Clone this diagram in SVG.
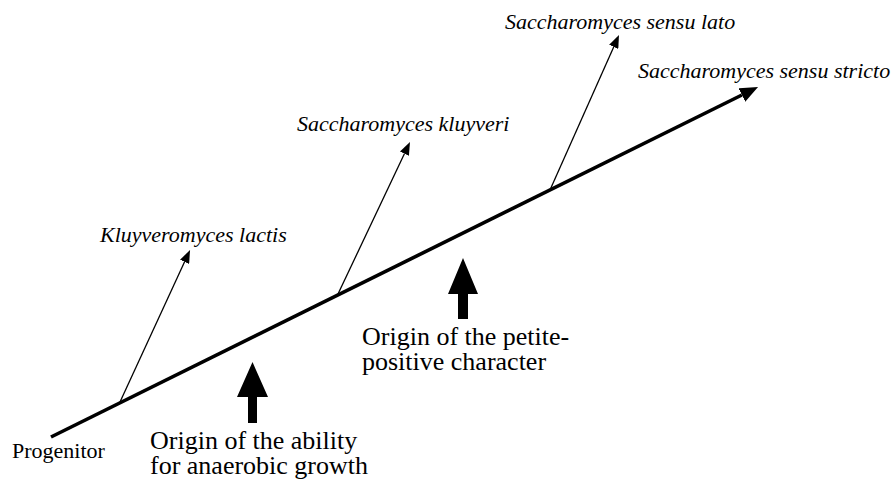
<svg xmlns="http://www.w3.org/2000/svg" width="896" height="481" viewBox="0 0 896 481">
<style>
  .bg { fill: #ffffff; }
  text { font-family: 'Liberation Serif', 'Times New Roman', Times, 'DejaVu Serif', serif; fill: #000000; }
  .sp { font-style: italic; font-size: 22px; }
  .note { font-size: 26px; }
  .prog { font-size: 22px; }
  .trunk { stroke: #000000; stroke-width: 3.6; fill: none; }
  .branch { stroke: #000000; stroke-width: 1.3; fill: none; }
  .block { fill: #000000; stroke: none; }
</style>
<defs>
  <marker id="headBig" viewBox="0 -7.5 18 15" markerWidth="18" markerHeight="15" refX="0" refY="0" orient="auto" markerUnits="userSpaceOnUse">
    <path d="M0,-7.5 L18,0 L0,7.5 Z" fill="#000000"/>
  </marker>
  <marker id="headSmall" viewBox="0 -5 13 10" markerWidth="13" markerHeight="10" refX="0" refY="0" orient="auto" markerUnits="userSpaceOnUse">
    <path d="M0,-5 L13,0 L0,5 Z" fill="#000000"/>
  </marker>
</defs>
<rect class="bg" x="0" y="0" width="896" height="481"/>
<g id="connectors">
  <line class="trunk" x1="51" y1="437" x2="741.9" y2="95.0" marker-end="url(#headBig)"/>
  <line class="branch" x1="120" y1="402" x2="184.6" y2="261.8" marker-end="url(#headSmall)"/>
  <line class="branch" x1="338" y1="294" x2="404.4" y2="153.7" marker-end="url(#headSmall)"/>
  <line class="branch" x1="550" y1="190" x2="613.7" y2="46.9" marker-end="url(#headSmall)"/>
</g>
<g id="progenitor">
  <text class="prog" x="12" y="458" font-family="Liberation Serif, serif">Progenitor</text>
</g>
<g id="kluyveromyces-lactis">
  <text class="sp" x="100" y="242" font-family="Liberation Serif, serif">Kluyveromyces lactis</text>
</g>
<g id="saccharomyces-kluyveri">
  <text class="sp" x="297" y="131" font-family="Liberation Serif, serif">Saccharomyces kluyveri</text>
</g>
<g id="saccharomyces-sensu-lato">
  <text class="sp" x="505" y="29" font-family="Liberation Serif, serif">Saccharomyces sensu lato</text>
</g>
<g id="saccharomyces-sensu-stricto">
  <text class="sp" x="638" y="78" font-family="Liberation Serif, serif">Saccharomyces sensu stricto</text>
</g>
<g id="anaerobic-origin">
  <polygon class="block" points="252.5,362 268,397 257,397 257,423 248,423 248,397 237,397"/>
  <text class="note" x="150" y="449" font-family="Liberation Serif, serif">Origin of the ability</text>
  <text class="note" x="150" y="474" font-family="Liberation Serif, serif">for anaerobic growth</text>
</g>
<g id="petite-origin">
  <polygon class="block" points="463,258 478,294 468,294 468,319 458,319 458,294 448,294"/>
  <text class="note" x="362" y="345" font-family="Liberation Serif, serif">Origin of the petite-</text>
  <text class="note" x="362" y="370" font-family="Liberation Serif, serif">positive character</text>
</g>
</svg>
